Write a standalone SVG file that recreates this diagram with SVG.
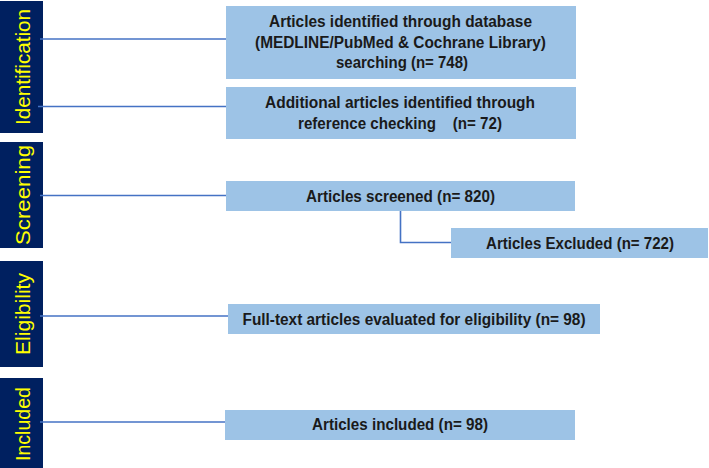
<svg xmlns="http://www.w3.org/2000/svg" width="709" height="468" viewBox="0 0 709 468">
<style>
.bar{fill:#002060}
.lab{fill:#ffff00;font-family:"Liberation Sans",Arial,sans-serif;font-size:20px;text-anchor:middle}
.box{fill:#9dc3e6}
.t{fill:#1a1a1a;font-family:"Liberation Sans",Arial,sans-serif;font-size:16px;font-weight:bold;text-anchor:middle}
.ln{stroke:#4472c4;stroke-width:1.6;fill:none}
</style>
<rect width="709" height="468" fill="#ffffff"/>
<g id="stage-identification"><rect class="bar" x="0" y="1" width="43" height="132"/><text class="lab" transform="translate(30,67) rotate(-90)" textLength="116" lengthAdjust="spacingAndGlyphs">Identification</text></g>
<g id="stage-screening"><rect class="bar" x="0" y="142" width="43" height="106"/><text class="lab" transform="translate(30,195) rotate(-90)" textLength="100" lengthAdjust="spacingAndGlyphs">Screening</text></g>
<g id="stage-eligibility"><rect class="bar" x="0" y="261" width="43" height="106"/><text class="lab" transform="translate(30,314) rotate(-90)" textLength="82" lengthAdjust="spacingAndGlyphs">Eligibility</text></g>
<g id="stage-included"><rect class="bar" x="0" y="378" width="43" height="90"/><text class="lab" transform="translate(30,424) rotate(-90)" textLength="74" lengthAdjust="spacingAndGlyphs">Included</text></g>
<g id="connectors">
<path class="ln" d="M40 39H226"/>
<path class="ln" d="M38 106.5H226"/>
<path class="ln" d="M40 195.5H226"/>
<path class="ln" d="M400.5 211V242.5H451"/>
<path class="ln" d="M40 316H228"/>
<path class="ln" d="M40 422H225"/>
</g>
<g id="node-database"><rect class="box" x="226" y="6" width="350" height="73"/>
<text class="t" x="400.5" y="27" textLength="263" lengthAdjust="spacingAndGlyphs">Articles identified through database</text>
<text class="t" x="400.5" y="47.5" textLength="291" lengthAdjust="spacingAndGlyphs">(MEDLINE/PubMed &amp; Cochrane Library)</text>
<text class="t" x="402" y="68" textLength="132" lengthAdjust="spacingAndGlyphs">searching (n= 748)</text></g>
<g id="node-reference"><rect class="box" x="226" y="87" width="350" height="52"/>
<text class="t" x="400" y="108" textLength="270" lengthAdjust="spacingAndGlyphs">Additional articles identified through</text>
<text class="t" x="400" y="128.5" textLength="204" lengthAdjust="spacingAndGlyphs" xml:space="preserve">reference checking    (n= 72)</text></g>
<g id="node-screened"><rect class="box" x="226" y="181" width="349" height="30"/>
<text class="t" x="400.5" y="201.5" textLength="189" lengthAdjust="spacingAndGlyphs">Articles screened (n= 820)</text></g>
<g id="node-excluded"><rect class="box" x="451" y="228" width="257" height="30"/>
<text class="t" x="580" y="249" textLength="188" lengthAdjust="spacingAndGlyphs">Articles Excluded (n= 722)</text></g>
<g id="node-eligibility"><rect class="box" x="228" y="304" width="372" height="30"/>
<text class="t" x="414" y="325" textLength="343" lengthAdjust="spacingAndGlyphs">Full-text articles evaluated for eligibility (n= 98)</text></g>
<g id="node-included"><rect class="box" x="225" y="410" width="350" height="30"/>
<text class="t" x="400" y="430" textLength="176" lengthAdjust="spacingAndGlyphs">Articles included (n= 98)</text></g>
</svg>
